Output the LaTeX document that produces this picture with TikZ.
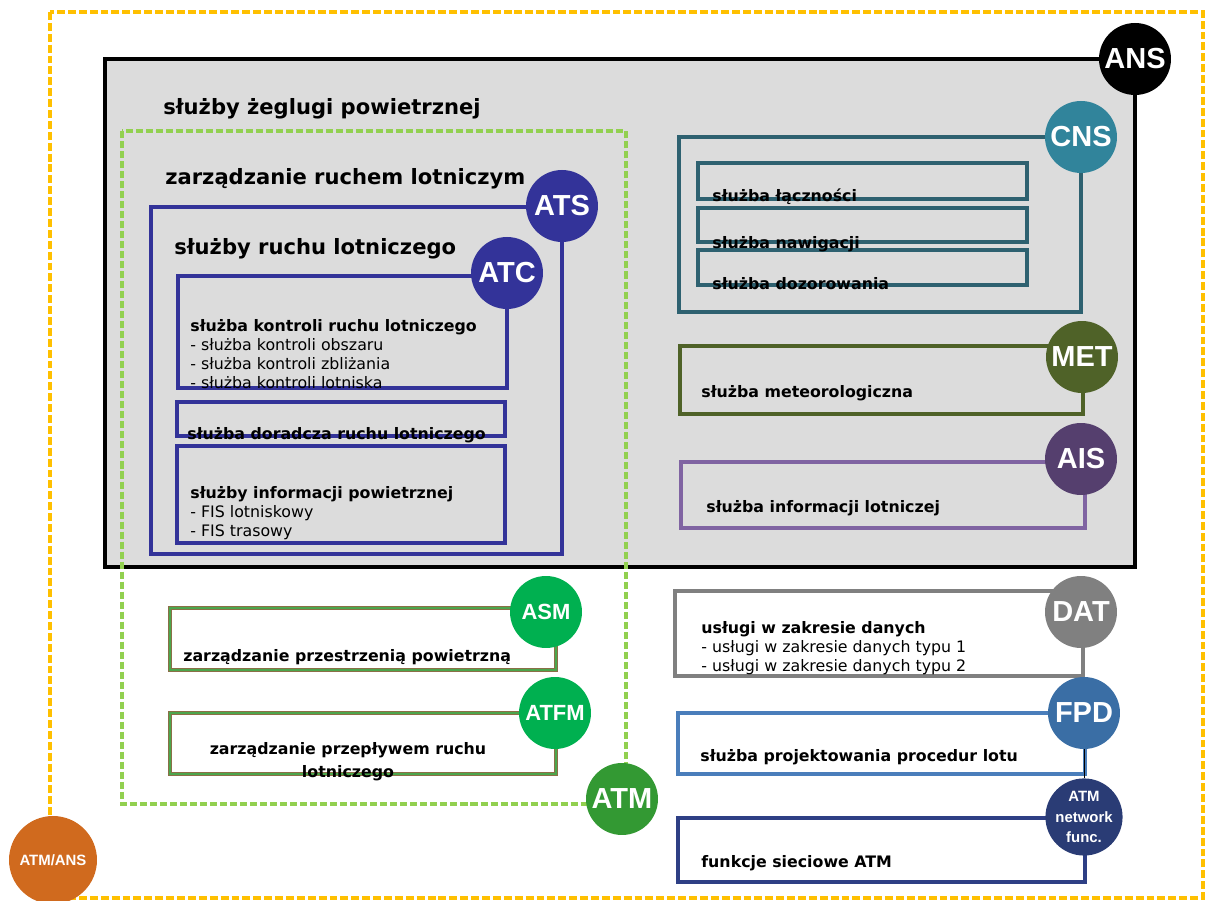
\documentclass[tikz,border=0pt]{standalone}
\usepackage{fontspec}
\setmainfont{DejaVu Sans}
\newfontfamily\badgefont{Liberation Sans}
\usepackage{tikz}
\usetikzlibrary{positioning}
\usepackage{xcolor}
\definecolor{framegold}{HTML}{FFC000}
\definecolor{atmdash}{HTML}{92D050}
\definecolor{atmgreen}{HTML}{339933}
\definecolor{ansfill}{HTML}{DCDCDC}
\definecolor{atsblue}{HTML}{333399}
\definecolor{cnsline}{HTML}{2E6170}
\definecolor{cnsdot}{HTML}{31849B}
\definecolor{metolive}{HTML}{4F6228}
\definecolor{aisline}{HTML}{8064A2}
\definecolor{aisdot}{HTML}{553F6E}
\definecolor{asmbrown}{HTML}{8B6F47}
\definecolor{asmline}{HTML}{4CA64C}
\definecolor{asmdot}{HTML}{00B050}
\definecolor{datgrey}{HTML}{808080}
\definecolor{fpdline}{HTML}{4A7EBB}
\definecolor{fpddot}{HTML}{3A6EA5}
\definecolor{netline}{HTML}{2E3F85}
\definecolor{netdot}{HTML}{2A3C75}
\definecolor{orangedot}{HTML}{D06A1E}

\tikzset{
  badge/.style={circle, minimum size=1.44cm, inner sep=0pt, text=white,
                font=\badgefont\bfseries\fontsize{16.5}{16.5}\selectfont},
  smallbadge/.style={badge, font=\badgefont\bfseries\fontsize{12.5}{12.5}\selectfont},
  tinybadge/.style={badge, align=center,
                font=\badgefont\bfseries\fontsize{8.5}{11.8}\selectfont},
  frame/.style={line width=2.2pt},
  heading/.style={anchor=base west, inner sep=0pt, font=\bfseries\fontsize{12}{14}\selectfont},
  label/.style={anchor=base west, inner sep=0pt, font=\bfseries\fontsize{9}{10.8}\selectfont},
  body/.style={anchor=north west, inner sep=0pt, align=left, font=\fontsize{9}{10.8}\selectfont},
}

\begin{document}
\begin{tikzpicture}[x=0.02cm, y=-0.02cm]
\useasboundingbox (0,0) rectangle (1205,901);

% ATM/ANS frame
\draw[framegold, line width=1.8pt, dash pattern=on 4.5pt off 1.7pt] (50,12) rectangle (1203,898);

% ANS
\draw[line width=2.8pt, fill=ansfill] (105,59) rectangle (1135,567);
\node[heading] (ansname) at (163,115) {służby żeglugi powietrznej};

% ATM
\draw[atmdash, line width=2.4pt, dash pattern=on 4pt off 1.7pt] (122,131) rectangle (626,804);
\node[heading] (atmname) at (165,185) {zarządzanie ruchem lotniczym};

% ATS and its parts
\draw[frame, draw=atsblue] (151,207) rectangle (562,554);
\node[heading] (atsname) at (174,255) {służby ruchu lotniczego};
\draw[frame, draw=atsblue] (178,276) rectangle (507,388);
\node[body] (atctext) at (190,319) {\textbf{służba kontroli ruchu lotniczego}\\- służba kontroli obszaru\\- służba kontroli zbliżania\\- służba kontroli lotniska};
\draw[frame, draw=atsblue] (177,402) rectangle (505,436);
\node[label] (advtext) at (187,440) {służba doradcza ruchu lotniczego};
\draw[frame, draw=atsblue] (177,446) rectangle (505,543);
\node[body] (fistext) at (190,486) {\textbf{służby informacji powietrznej}\\- FIS lotniskowy\\- FIS trasowy};

% CNS
\draw[frame, draw=cnsline] (679,137) rectangle (1081,312);
\draw[frame, draw=cnsline] (698,163) rectangle (1027,199);
\draw[frame, draw=cnsline] (698,208) rectangle (1027,242);
\draw[frame, draw=cnsline] (698,250) rectangle (1027,285);
\node[label] (comtext) at (712,202) {służba łączności};
\node[label] (navtext) at (712,249) {służba nawigacji};
\node[label] (surtext) at (712,290) {służba dozorowania};

% MET, AIS
\draw[frame, draw=metolive] (680,346) rectangle (1083,414);
\node[label] (mettext) at (701,398) {służba meteorologiczna};
\draw[frame, draw=aisline] (681,462) rectangle (1085,528);
\node[label] (aistext) at (706,513) {służba informacji lotniczej};

% ASM, ATFM
\foreach \top/\bot in {608/670, 713/774} {
  \draw[asmbrown, line width=2.8pt] (170,\top) rectangle (556,\bot);
  \draw[asmline, line width=0.9pt] (170,\top) rectangle (556,\bot);
}
\node[label] (asmtext) at (183,662) {zarządzanie przestrzenią powietrzną};
\node[body, anchor=north, align=center, font=\bfseries\fontsize{9}{13}\selectfont]
  (atfmtext) at (348,742) {zarządzanie przepływem ruchu\\lotniczego};

% DAT, FPD, network
\draw[frame, draw=datgrey] (675,591) rectangle (1083,676);
\node[body] (dattext) at (701,621) {\textbf{usługi w zakresie danych}\\- usługi w zakresie danych typu 1\\- usługi w zakresie danych typu 2};
\draw[frame, draw=fpdline] (678,713) rectangle (1085,774);
\node[label] (fpdtext) at (700,762) {służba projektowania procedur lotu};
\draw[frame, draw=netline] (678,818) rectangle (1085,882);
\node[label] (nettext) at (701,868) {funkcje sieciowe ATM};

% badges
\node[badge, fill=black] (ans) at (1135,59) {ANS};
\node[badge, fill=atmgreen] (atm) at (622,799) {ATM};
\node[badge, fill=atsblue] (ats) at (562,206) {ATS};
\node[badge, fill=atsblue] (atc) at (507,273) {ATC};
\node[badge, fill=cnsdot] (cns) at (1081,137) {CNS};
\node[badge, fill=metolive] (met) at (1082,357) {MET};
\node[badge, fill=aisdot] (ais) at (1081,459) {AIS};
\node[smallbadge, fill=asmdot] (asm) at (546,612) {ASM};
\node[smallbadge, fill=asmdot] (atfm) at (555,713) {ATFM};
\node[badge, fill=datgrey] (dat) at (1081,612) {DAT};
\node[badge, fill=fpddot] (fpd) at (1084,713) {FPD};
\node[tinybadge, fill=netdot] (netf) at (1084,817) {ATM\\network\\func.};
\node[tinybadge, minimum size=1.76cm, fill=orangedot] (atmans) at (53,860) {ATM/ANS};
\draw[thin] (fpd) -- (netf);
\end{tikzpicture}
\end{document}
